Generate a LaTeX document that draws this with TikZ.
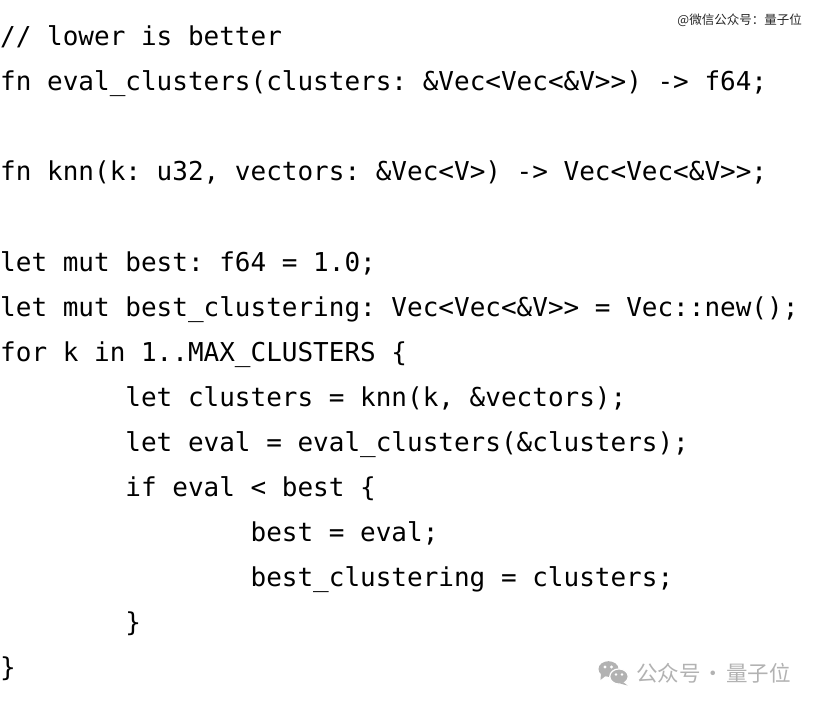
\documentclass[tikz,border=0pt]{standalone}
\usepackage{fontspec}
\setmonofont{DejaVu Sans Mono}
\newfontfamily\cjk{Noto Sans CJK SC}
\usepackage{tikz}

\definecolor{markgray}{HTML}{B2B2B2}

\begin{document}
\begin{tikzpicture}[x=1pt, y=-1pt,
    code/.style={anchor=base west, inner sep=0pt, font=\ttfamily\fontsize{26}{30}\selectfont}]
            \fill[white] (0,0) rectangle (820,706);
            \node[code] (c1) at (0, 46) {// lower is better};
            \node[code] (c2) at (0, 91) {fn eval\_clusters(clusters: \&Vec<Vec<\&V>>) -> f64;};
            \node[code] (c4) at (0, 181) {fn knn(k: u32, vectors: \&Vec<V>) -> Vec<Vec<\&V>>;};
            \node[code] (c6) at (0, 271) {let mut best: f64 = 1.0;};
            \node[code] (c7) at (0, 316) {let mut best\_clustering: Vec<Vec<\&V>> = Vec::new();};
            \node[code] (c8) at (0, 361) {for k in 1..MAX\_CLUSTERS \{};
            \node[code] (c9) at (125.2, 406) {let clusters = knn(k, \&vectors);};
            \node[code] (c10) at (125.2, 451) {let eval = eval\_clusters(\&clusters);};
            \node[code] (c11) at (125.2, 496) {if eval < best \{};
            \node[code] (c12) at (250.4, 541) {best = eval;};
            \node[code] (c13) at (250.4, 586) {best\_clustering = clusters;};
            \node[code] (c14) at (125.2, 631) {\}};
            \node[code] (c15) at (0, 676) {\}};
        %   watermarks
            \node[anchor=east, inner sep=0pt, text=black!85, font=\cjk\fontsize{12.5}{14}\selectfont] (wm) at (802, 20) {@微信公众号：量子位};
            \fill[markgray] (608.5,669) ellipse [x radius=10pt, y radius=7.8pt];
            \fill[markgray] (601,673) -- (600.5,680) -- (606,675.5) -- cycle;
            \filldraw[fill=markgray, draw=white, line width=1.2pt] (619,676.5) ellipse [x radius=9.2pt, y radius=7.6pt];
            \fill[markgray] (623,682) -- (627.5,685.5) -- (620,683.5) -- cycle;
            \fill[white] (605,667) circle [radius=1.6pt] (611.5,667) circle [radius=1.6pt];
            \fill[white] (616,674.5) circle [radius=1.4pt] (622,674.5) circle [radius=1.4pt];
            \node[anchor=west, inner sep=0pt, text=markgray, font=\cjk\fontsize{21.5}{24}\selectfont] (acct) at (636, 673) {公众号\hspace{2pt}·\hspace{2pt}量子位};
        \end{tikzpicture}
\end{document}
